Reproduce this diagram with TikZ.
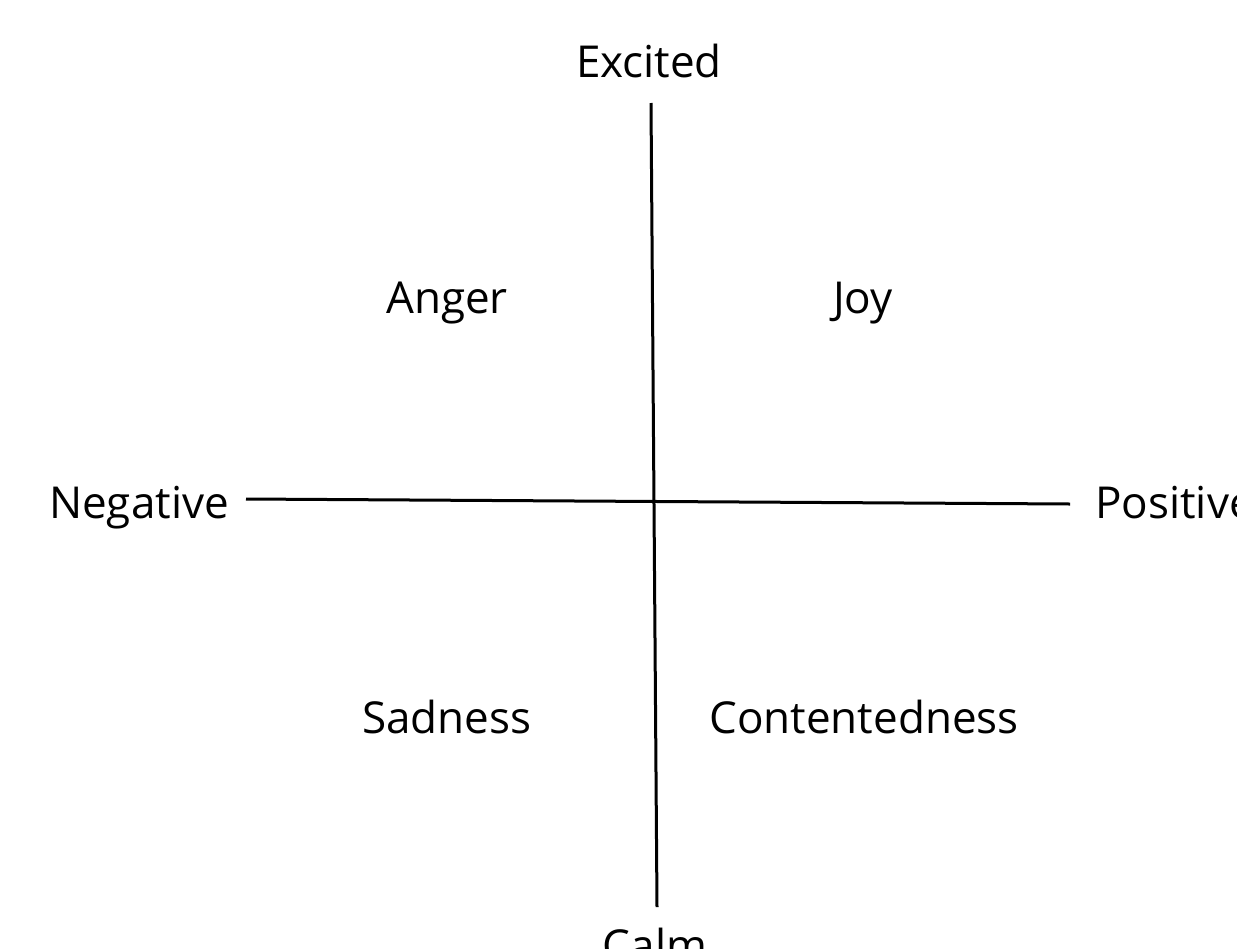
\documentclass[tikz,border=0pt]{standalone}
\usepackage{fontspec}
\setmainfont{Open Sans}
\begin{document}
\begin{tikzpicture}[x=1pt,y=-1pt,
  lbl/.style={font=\fontsize{44}{52}\selectfont, inner sep=0pt, anchor=base},
  axis/.style={line width=3pt, black}]
\clip (0,0) rectangle (1237,948);
\fill[white] (0,0) rectangle (1237,948);
\coordinate (vtop) at (651,103);
\coordinate (vbot) at (657,907);
\coordinate (hl) at (246,499);
\coordinate (hr) at (1070,504);
\draw[axis] (vtop) -- (vbot);
\draw[axis] (hl) -- (hr);
\node[lbl] (excited) at (649,77) {Excited};
\node[lbl] (anger) at (447,313) {Anger};
\node[lbl] (joy) at (863,313) {Joy};
\node[lbl] (negative) at (139,518) {Negative};
\node[lbl, anchor=base west] (positive) at (1095,518) {Positive};
\node[lbl] (sadness) at (447,733) {Sadness};
\node[lbl] (content) at (864,733) {Contentedness};
\node[lbl] (calm) at (655,961) {Calm};
\end{tikzpicture}
\end{document}
